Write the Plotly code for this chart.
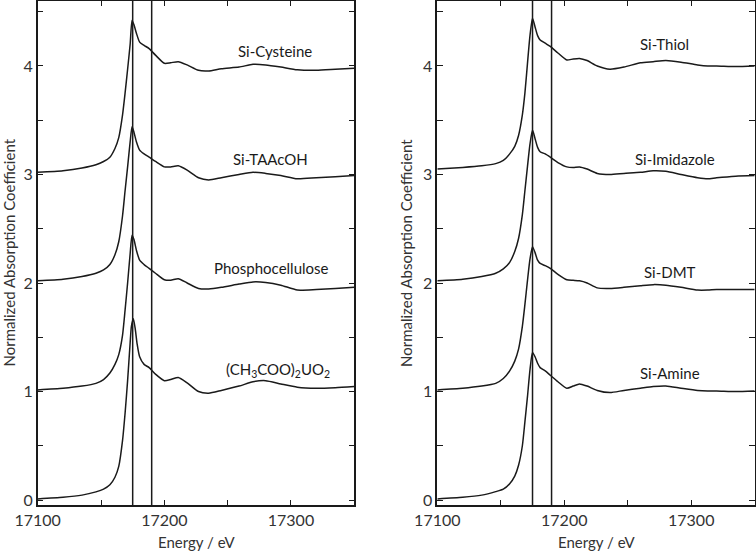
import plotly.graph_objects as go

# ---------------- data ----------------
# Left panel
E_u = [17100, 17120, 17135, 17146, 17152, 17157, 17161, 17164, 17167, 17169, 17171, 17173, 17174, 17175.5,
       17177, 17178.5, 17180.5, 17184, 17188, 17193, 17200, 17205, 17211, 17218, 17227, 17235, 17245, 17259,
       17270, 17280, 17292, 17305, 17320, 17335, 17350]
uranyl = [0.01, 0.025, 0.045, 0.075, 0.10, 0.14, 0.21, 0.31, 0.55, 0.80, 1.10, 1.45, 1.60, 1.67,
          1.58, 1.44, 1.32, 1.25, 1.22, 1.16, 1.10, 1.11, 1.13, 1.08, 1.00, 0.985, 1.01, 1.05,
          1.09, 1.10, 1.07, 1.04, 1.03, 1.035, 1.045]

E_p = [17100, 17120, 17135, 17146, 17152, 17157, 17161, 17164, 17167, 17169, 17171, 17173, 17174.5,
       17176, 17178, 17180.5, 17184, 17188, 17193, 17200, 17205, 17211, 17218, 17227, 17235, 17245, 17259,
       17270, 17280, 17292, 17305, 17320, 17335, 17350]
phosphocellulose = [1.015, 1.03, 1.05, 1.075, 1.11, 1.17, 1.25, 1.34, 1.52, 1.75, 2.00, 2.27, 2.44,
                    2.40, 2.30, 2.21, 2.17, 2.135, 2.09, 2.03, 2.025, 2.04, 2.00, 1.95, 1.945, 1.96, 1.99,
                    2.01, 2.005, 1.98, 1.935, 1.94, 1.95, 1.96]
taacoh = [2.02, 2.035, 2.06, 2.09, 2.12, 2.17, 2.26, 2.38, 2.62, 2.85, 3.07, 3.30, 3.44,
          3.39, 3.30, 3.225, 3.19, 3.16, 3.12, 3.07, 3.07, 3.08, 3.04, 2.97, 2.95, 2.97, 3.00,
          3.02, 3.01, 2.99, 2.96, 2.97, 2.98, 2.99]
cysteine = [3.02, 3.035, 3.06, 3.09, 3.12, 3.16, 3.24, 3.34, 3.55, 3.75, 3.97, 4.20, 4.42,
            4.38, 4.30, 4.22, 4.19, 4.16, 4.10, 4.025, 4.03, 4.04, 4.01, 3.96, 3.955, 3.975, 3.99,
            4.015, 4.01, 3.99, 3.965, 3.96, 3.97, 3.98]

# Right panel
E_r = [17100, 17120, 17135, 17146, 17152, 17157, 17161, 17164, 17167, 17169, 17171, 17173, 17175,
       17177, 17179, 17181, 17185, 17189, 17195, 17202, 17207, 17212, 17218, 17226, 17236, 17247, 17260,
       17270, 17280, 17292, 17305, 17313, 17320, 17335, 17350]
amine = [0.01, 0.025, 0.045, 0.077, 0.10, 0.15, 0.22, 0.32, 0.50, 0.72, 0.95, 1.20, 1.36,
         1.32, 1.26, 1.22, 1.19, 1.15, 1.09, 1.03, 1.05, 1.07, 1.05, 1.01, 0.99, 1.01, 1.03,
         1.045, 1.05, 1.03, 1.01, 1.005, 1.005, 1.0, 1.005]
dmt = [1.015, 1.03, 1.05, 1.075, 1.12, 1.19, 1.28, 1.39, 1.60, 1.80, 2.02, 2.22, 2.335,
       2.28, 2.21, 2.18, 2.16, 2.135, 2.08, 2.03, 2.025, 2.02, 2.00, 1.955, 1.95, 1.96, 1.975,
       1.985, 1.98, 1.96, 1.935, 1.935, 1.94, 1.94, 1.94]
imidazole = [2.02, 2.035, 2.06, 2.09, 2.13, 2.19, 2.29, 2.41, 2.63, 2.85, 3.07, 3.28, 3.41,
             3.33, 3.25, 3.21, 3.19, 3.16, 3.11, 3.07, 3.065, 3.07, 3.05, 3.01, 3.00, 3.01, 3.02,
             3.035, 3.03, 3.00, 2.97, 2.96, 2.97, 2.985, 2.99]
thiol = [3.05, 3.065, 3.08, 3.10, 3.13, 3.19, 3.26, 3.36, 3.55, 3.75, 4.02, 4.28, 4.44,
         4.36, 4.28, 4.24, 4.21, 4.18, 4.12, 4.055, 4.065, 4.07, 4.05, 4.00, 3.97, 3.99, 4.03,
         4.04, 4.05, 4.035, 4.01, 4.0, 4.0, 3.995, 4.0]

ref_lines = [17175, 17190]

left_names = ["Si-Cysteine", "Si-TAAcOH", "Phosphocellulose", "(CH<sub>3</sub>COO)<sub>2</sub>UO<sub>2</sub>"]
left_label_x = [17287, 17284, 17285, 17290]
left_label_y = [4.14, 3.14, 2.14, 1.20]
right_names = ["Si-Thiol", "Si-Imidazole", "Si-DMT", "Si-Amine"]
right_label_x = [17279, 17287, 17283, 17283]
right_label_y = [4.20, 3.14, 2.10, 1.17]

x_tickvals = [17100, 17150, 17200, 17250, 17300, 17350]
x_ticktext = ["17100", "", "17200", "", "17300", ""]
y_tickvals = [0, 0.5, 1, 1.5, 2, 2.5, 3, 3.5, 4, 4.5]
y_ticktext = ["0", "", "1", "", "2", "", "3", "", "4", ""]

x_title = "Energy / eV"
y_title = "Normalized Absorption Coefficient"

# ---------------- figure ----------------
FONT = "Lato, Open Sans, sans-serif"
fig = go.Figure()
line = dict(color="#1a1a1a", width=1.5, shape="spline", smoothing=0.6)

for ys, xs in [(uranyl, E_u), (phosphocellulose, E_p), (taacoh, E_p), (cysteine, E_p)]:
    fig.add_trace(go.Scatter(x=xs, y=ys, mode="lines", line=line, xaxis="x", yaxis="y",
                             showlegend=False, hoverinfo="skip"))
for ys in [amine, dmt, imidazole, thiol]:
    fig.add_trace(go.Scatter(x=E_r, y=ys, mode="lines", line=line, xaxis="x2", yaxis="y2",
                             showlegend=False, hoverinfo="skip"))

for xr, yr in [("x", "y"), ("x2", "y2")]:
    for v in ref_lines:
        fig.add_shape(type="line", xref=xr, yref=yr + " domain", x0=v, x1=v, y0=0, y1=1,
                      line=dict(color="#1a1a1a", width=1.5))

anns = []
for t, x, y in zip(left_names, left_label_x, left_label_y):
    anns.append(dict(text=t, x=x, y=y, xref="x", yref="y", showarrow=False,
                     font=dict(family=FONT, size=15, color="#1a1a1a")))
for t, x, y in zip(right_names, right_label_x, right_label_y):
    anns.append(dict(text=t, x=x, y=y, xref="x2", yref="y2", showarrow=False,
                     font=dict(family=FONT, size=15, color="#1a1a1a")))
# axis titles
for xc in [196 / 756, 596 / 756]:
    anns.append(dict(text=x_title, x=xc, y=1 - 542 / 551, xref="paper", yref="paper",
                     showarrow=False, xanchor="center", yanchor="middle",
                     font=dict(family=FONT, size=15, color="#333333")))
for xc in [8.5 / 756, 406 / 756]:
    anns.append(dict(text=y_title, x=xc, y=1 - 253 / 551, xref="paper", yref="paper",
                     showarrow=False, xanchor="center", yanchor="middle", textangle=-90,
                     font=dict(family=FONT, size=15, color="#333333")))

xaxis_common = dict(range=[17100, 17350], tickvals=x_tickvals, ticktext=x_ticktext,
                    ticks="inside", ticklen=5, tickwidth=1.3, tickcolor="#1a1a1a",
                    showline=True, linecolor="#1a1a1a", linewidth=1.5, mirror="ticks",
                    showgrid=False, zeroline=False, automargin=False,
                    tickfont=dict(family=FONT, size=16, color="#333333"))
yaxis_common = dict(range=[-0.046, 4.599], tickvals=y_tickvals, ticktext=y_ticktext,
                    ticks="inside", ticklen=6, tickwidth=1.3, tickcolor="#1a1a1a",
                    showline=True, linecolor="#1a1a1a", linewidth=1.5, mirror="ticks",
                    showgrid=False, zeroline=False, automargin=False,
                    tickfont=dict(family=FONT, size=16, color="#333333"))

y_dom = [46 / 551, 550 / 551]
fig.update_layout(
    width=756, height=551,
    margin=dict(l=0, r=0, t=0, b=0),
    paper_bgcolor="white", plot_bgcolor="white",
    template="none",
    xaxis=dict(domain=[37.7 / 756, 354.3 / 756], anchor="y", **xaxis_common),
    yaxis=dict(domain=y_dom, anchor="x", **yaxis_common),
    xaxis2=dict(domain=[437.3 / 756, 754.7 / 756], anchor="y2", **xaxis_common),
    yaxis2=dict(domain=y_dom, anchor="x2", **yaxis_common),
    annotations=anns,
    showlegend=False,
)

fig.write_html("out.html", config={"displayModeBar": False},
               post_script="document.body.style.margin='0';document.body.style.overflow='hidden';")
